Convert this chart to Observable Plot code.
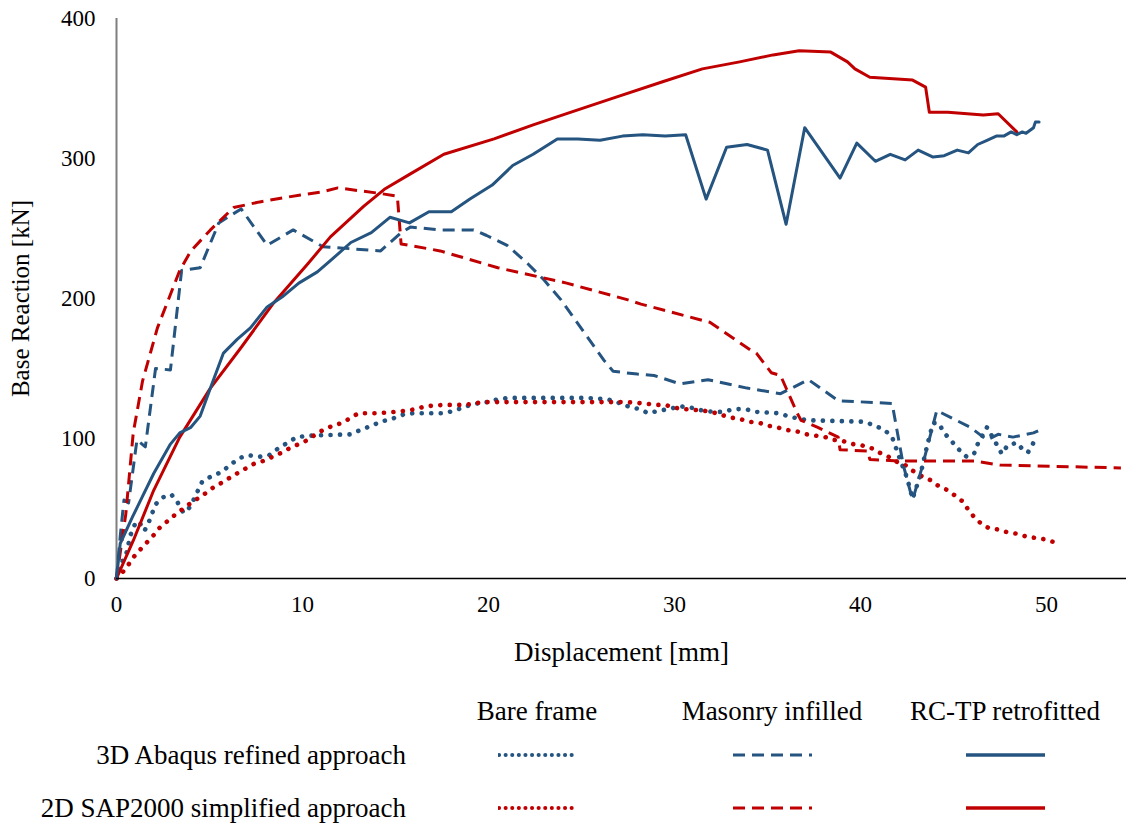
<!DOCTYPE html>
<html>
<head>
<meta charset="utf-8">
<script src="https://cdn.jsdelivr.net/npm/d3@7"></script>
<script src="https://cdn.jsdelivr.net/npm/@observablehq/plot@0.6"></script>
<style>
  body { margin: 0; background: #fff; }
  #wrap { position: relative; width: 1126px; height: 823px; font-family: "Times New Roman", Tinos, "Liberation Serif", "DejaVu Serif", serif; color: #000; }
  .lg { position: absolute; font-size: 27px; white-space: nowrap; line-height: 1; }
  .c { transform: translate(-50%, -50%); }
  .r { transform: translate(-100%, -50%); }
  .sw { position: absolute; transform: translateY(-50%); }
</style>
</head>
<body>
<div id="wrap"></div>
<script>
// ---- data: [displacement mm, base reaction kN] ----
const bare3D = [[0,0],[0.1,8],[0.5,16],[0.75,31],[1.0,39],[1.2,41],[1.5,34],[1.7,39],[1.9,46],[2.1,53],[2.5,58],[2.95,60],[3.3,54],[3.6,47],[3.8,48],[4.1,55],[4.6,69],[5.1,73],[5.65,76],[6.1,81],[6.6,86],[7.1,88],[7.7,87],[8.2,88],[8.7,93],[9.2,97],[9.7,101],[10.3,102],[12.6,103],[13.1,106],[13.7,109],[14.2,112],[14.8,114],[15.4,117],[15.9,118],[17.6,118],[18.2,120],[18.8,123],[19.4,125],[19.9,126],[20.5,128],[21.1,129],[25.2,129],[26.4,128],[26.9,126],[27.5,123],[28.1,121],[28.6,118],[29.2,120],[29.7,121],[30.3,123],[30.9,122],[31.5,120],[32.1,119],[32.6,119],[33.2,121],[33.8,121],[34.4,119],[35.6,118],[36.1,116],[36.7,114],[37.3,113],[40.2,112],[40.8,109],[41.3,106],[41.7,101],[42.1,86],[42.5,72],[42.8,57],[43.2,73],[43.6,96],[43.9,111],[44.2,111],[44.5,104],[44.9,98],[45.3,92],[45.7,87],[46.1,89],[46.3,96],[46.8,108],[47.1,101],[47.6,89],[47.9,95],[48.4,97],[48.8,91],[49.0,90],[49.3,97]];
const bare2D = [[0,0],[0.3,4],[0.65,10],[0.9,15],[1.3,21],[1.65,26],[2.0,31],[2.3,36],[2.75,41],[3.1,45],[3.5,49],[3.9,53],[4.35,57],[4.8,61],[5.2,65],[5.6,68],[6.1,72],[6.6,76],[7.0,79],[7.4,82],[7.9,84],[8.4,87],[8.9,90],[9.3,93],[9.8,96],[10.3,99],[10.7,103],[11.1,106],[11.6,109],[12.1,111],[12.5,114],[13.0,118],[14.0,118],[15.0,119],[15.6,120],[16.1,121],[16.6,123],[17.6,124],[18.7,124],[19.2,125],[19.7,126],[26.4,126],[27.4,126],[28.4,125],[29.0,124],[29.5,124],[30.0,122],[30.5,121],[31.5,120],[32.0,119],[32.5,117],[33.0,115],[33.5,114],[34.0,112],[34.6,111],[35.1,109],[35.5,108],[36.1,106],[36.6,105],[37.1,103],[37.6,102],[38.1,101],[38.6,99],[39.1,98],[39.6,96],[40.1,95],[40.6,93],[41.0,90],[41.5,87],[42.0,83],[42.4,81],[42.8,77],[43.3,73],[43.8,70],[44.2,66],[44.7,63],[45.1,59],[45.5,55],[45.8,49],[46.1,44],[46.5,39],[46.9,36],[47.4,35],[47.9,33],[48.4,32],[48.9,30],[49.4,29],[49.9,28],[50.4,26]];
const masonry3D = [[0,0],[0.2,30],[0.4,56],[0.65,54],[1.1,99],[1.55,94],[2.1,150],[2.9,149],[3.5,220],[4.5,222],[5.5,254],[6.7,264],[8.1,238],[9.5,249],[11.1,237],[14.2,234],[15.3,247],[15.8,251],[17.4,249],[19.2,249],[19.9,245],[21.0,238],[22.1,225],[23.0,213],[23.9,199],[26.2,156],[26.7,148],[28.0,146],[28.9,145],[30.3,139],[31.8,142],[33.9,136],[35.7,132],[37.2,142],[38.8,127],[41.7,125],[42.3,81],[42.8,56],[43.3,79],[44.1,120],[45.9,108],[46.8,99],[47.4,103],[48.2,101],[49.3,104],[49.8,107]];
const masonry2D = [[0,0],[0.5,46],[0.9,104],[1.4,141],[2.2,179],[3.4,220],[4.0,234],[5.05,249],[6.3,265],[7.7,269],[9.9,274],[11.0,276],[11.9,279],[14.2,275],[15.1,273],[15.3,239],[17.4,234],[20.5,222],[24.2,211],[27.5,199],[28.2,196],[31.9,183],[34.1,163],[34.4,161],[35.2,147],[35.7,145],[36.6,118],[36.8,113],[37.7,108],[38.8,101],[38.9,92],[40.4,91],[40.5,85],[42.0,84],[46.1,84],[47.5,81],[54.0,79]];
const retro3D = [[0,0],[0.2,25],[0.86,44],[1.3,56],[2.0,75],[2.9,96],[3.4,104],[4.0,108],[4.5,116],[5.05,136],[5.75,161],[6.5,171],[7.2,179],[8.1,194],[8.9,201],[9.8,211],[10.8,219],[11.5,227],[12.6,240],[13.7,247],[14.7,258],[15.75,254],[16.8,262],[18.0,262],[19.0,271],[20.2,281],[21.3,295],[22.4,303],[23.7,314],[24.8,314],[26.0,313],[27.2,316],[28.3,317],[29.5,316],[30.6,317],[31.7,271],[32.8,308],[33.9,310],[35.0,306],[36.0,253],[37.0,322],[38.9,286],[39.8,311],[40.8,298],[41.6,303],[42.4,299],[43.1,306],[43.9,301],[44.5,302],[45.2,306],[45.8,304],[46.3,310],[46.8,313],[47.3,316],[47.7,316],[48.1,319],[48.4,317],[48.7,319],[48.9,318],[49.3,322],[49.4,326],[49.6,326]];
const retro2D = [[0,0],[0.9,27],[2.0,63],[3.4,101],[5.05,136],[6.7,165],[8.4,196],[10.3,225],[11.5,244],[13.3,266],[14.4,278],[15.8,289],[17.6,303],[20.3,314],[22.4,324],[24.4,333],[26.9,344],[29.4,355],[31.5,364],[33.5,369],[35.3,374],[36.7,377],[38.4,376],[39.3,369],[39.7,364],[40.5,358],[42.8,356],[43.5,351],[43.7,333],[44.7,333],[46.6,331],[47.4,332],[48.4,319]];

const xTicks = [0, 10, 20, 30, 40, 50];
const yTicks = [0, 100, 200, 300, 400];
const colHeaders = ["Bare frame", "Masonry infilled", "RC-TP retrofitted"];
const rowLabels = ["3D Abaqus refined approach", "2D SAP2000 simplified approach"];

const FONT = '"Times New Roman", Tinos, "Liberation Serif", "DejaVu Serif", serif';
const BLUE = "#24547f", RED = "#c00000";
const dotted = {strokeWidth: 4.6, strokeDasharray: "0.1,9.4", strokeLinecap: "round"};
const dashed = {strokeWidth: 3, strokeDasharray: "12,7", strokeLinecap: "butt"};
const solid = {strokeWidth: 3};

const series = [
  {data: bare3D, color: BLUE, style: dotted},
  {data: bare2D, color: RED, style: dotted},
  {data: masonry3D, color: BLUE, style: dashed},
  {data: masonry2D, color: RED, style: dashed},
  {data: retro2D, color: RED, style: solid},
  {data: retro3D, color: BLUE, style: solid}
];

const chart = Plot.plot({
  width: 1126,
  height: 672,
  marginLeft: 116,
  marginRight: 0,
  marginTop: 18,
  marginBottom: 94,
  style: {fontFamily: FONT, fontSize: "23px", color: "#000", background: "#fff"},
  x: {domain: [0, 54.3]},
  y: {domain: [0, 400]},
  marks: [
    Plot.axisX({ticks: xTicks, tickSize: 0, tickPadding: 17, label: null, fontSize: 23, fontFamily: FONT}),
    Plot.axisX({ticks: [], tickSize: 0, label: "Displacement [mm]", labelAnchor: "center", labelOffset: 82, labelArrow: "none", fontSize: 27, fontFamily: FONT}),
    Plot.axisY({ticks: yTicks, tickSize: 0, tickPadding: 21, label: null, fontSize: 23, fontFamily: FONT}),
    Plot.axisY({ticks: [], tickSize: 0, label: "Base Reaction [kN]", labelAnchor: "center", labelOffset: 105, labelArrow: "none", fontSize: 25, fontFamily: FONT}),
    Plot.ruleX([0], {stroke: "#7f7f7f", strokeWidth: 2}),
    ...series.map(s => Plot.line(s.data, {x: d => d[0], y: d => d[1], stroke: s.color, ...s.style})),
    Plot.ruleY([0], {stroke: "#000", strokeWidth: 1.5})
  ]
});

const wrap = document.getElementById("wrap");
chart.style.position = "absolute";
chart.style.left = "0px";
chart.style.top = "0px";
wrap.appendChild(chart);

// ---- legend (HTML below the SVG) ----
const colX = [537, 772, 1005];
const swX = [[498, 575], [732, 813], [965, 1046]];
const rowY = [755, 808];
const styles = [
  {dash: "0.1,6.5", w: 4, cap: "round"},
  {dash: "12,7", w: 3, cap: "butt"},
  {dash: null, w: 3.5, cap: "butt"}
];
const colors = [BLUE, RED];

function addText(txt, x, y, cls) {
  const d = document.createElement("div");
  d.className = "lg " + cls;
  d.style.left = x + "px";
  d.style.top = y + "px";
  d.textContent = txt;
  wrap.appendChild(d);
}
colHeaders.forEach((h, i) => addText(h, colX[i], 711, "c"));
rowLabels.forEach((r, i) => addText(r, 406, rowY[i], "r"));
rowY.forEach((y, ri) => {
  swX.forEach(([x0, x1], ci) => {
    const w = x1 - x0;
    const svg = d3.create("svg").attr("width", w).attr("height", 8).attr("class", "sw")
      .style("left", x0 + "px").style("top", y + "px");
    const ln = svg.append("line").attr("x1", 1).attr("x2", w - 1).attr("y1", 4).attr("y2", 4)
      .attr("stroke", colors[ri]).attr("stroke-width", styles[ci].w).attr("stroke-linecap", styles[ci].cap);
    if (styles[ci].dash) ln.attr("stroke-dasharray", styles[ci].dash);
    wrap.appendChild(svg.node());
  });
});
</script>
</body>
</html>
